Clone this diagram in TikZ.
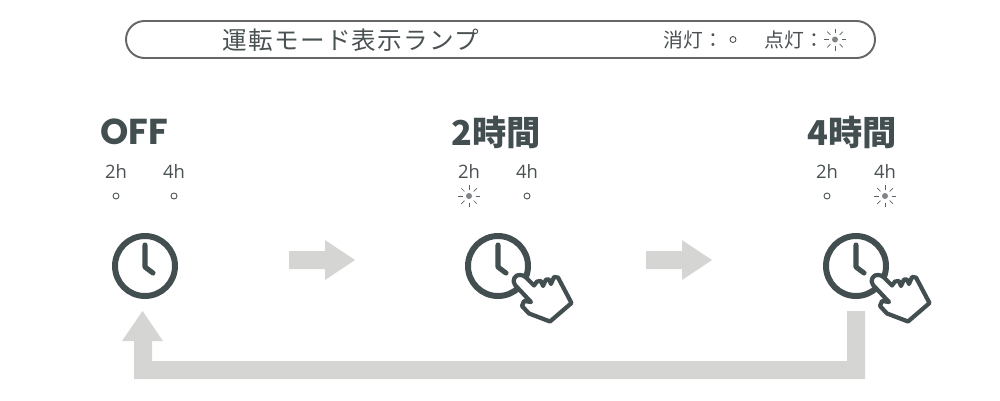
\documentclass[tikz,border=0pt]{standalone}
\usepackage{fontspec}
\setmainfont{Noto Sans CJK JP}
\newfontfamily\latinfont{Open Sans}
\newfontfamily\titlefont{Poppins}
\usetikzlibrary{calc}

\definecolor{iconcolor}{HTML}{434E51}
\definecolor{textcolor}{HTML}{4A5153}
\definecolor{arrowcolor}{HTML}{D5D6D3}
\definecolor{framecolor}{HTML}{666666}

\tikzset{
    px/.style = {x=0.02cm, y=-0.02cm},
    flow/.style = {fill=arrowcolor, draw=none},
    title/.style = {text=iconcolor, font=\fontsize{19.5}{19.5}\selectfont\bfseries, inner sep=0pt},
    lamp/.style = {text=textcolor, font=\latinfont\fontsize{10.5}{10.5}\selectfont, inner sep=0pt},
    note/.style = {text=textcolor, font=\fontsize{11.3}{11.3}\selectfont, inner sep=0pt, anchor=west},
    pics/lampoff/.style = {code={
        \draw[textcolor, line width=0.5pt] (0,0) circle (3);
    }},
    pics/lampon/.style = {code={
        \fill[textcolor!70] (0,0) circle (3);
        \foreach \a in {0,45,...,315}
            \draw[textcolor!90, line width=0.4pt] (\a:6.5) -- (\a:11);
    }},
    pics/clock/.style = {code={
        \draw[iconcolor, line width=3.4pt] (0,0) circle (30);
        \draw[iconcolor, line width=2.9pt, line cap=round, line join=round] (0,-21) -- (0,1) -- (8,7);
    }},
    pics/hand/.style = {code={
        \draw[iconcolor, fill=white, line width=2.4pt, line join=round]
            (17,19) .. controls (13,14) and (18,8) .. (22,9) .. controls (24,9) and (26,9.5) .. (28,11.5)
            -- (36,19.5) -- (39,15.5) -- (43,15) -- (45,20) -- (48,13.5) -- (51,13.5) -- (53,18) -- (56,11) -- (60,11.5)
            -- (73.5,37) -- (52,55.5) -- (31,47.5) -- (24,40) -- (26,35) -- (33,36) -- cycle;
    }},
}

\begin{document}
\begin{tikzpicture}[px]
    \useasboundingbox (0,0) rectangle (1000,400);

    % header
    \draw[framecolor, line width=1.1pt, rounded corners=18.5*0.02cm] (126,21) rectangle (875,58);
    \node[text=textcolor, font=\fontsize{14}{14}\selectfont\addfontfeature{LetterSpace=5}, inner sep=0pt] (header) at (351,40) {運転モード表示ランプ};
    \node[note] (lampoffnote) at (663,40) {消灯：};
    \node[note] (lamponnote) at (764,40) {点灯：};
    \pic at (733,39.5) {lampoff};
    \pic at (835,39.5) {lampon};

    % titles
    \node[title, font=\titlefont\fontsize{20.5}{20.5}\selectfont\bfseries] (modeoff) at (134,132) {OFF};
    \node[title] (modetwo) at (496,132) {2時間};
    \node[title] (modefour) at (852,132) {4時間};

    % lamps
    \foreach \x/\name in {116/a, 469/b, 827/c} \node[lamp] (two\name) at (\x,171) {2h};
    \foreach \x/\name in {174/a, 527/b, 885/c} \node[lamp] (four\name) at (\x,171) {4h};
    \pic at (116,196) {lampoff};
    \pic at (174,196) {lampoff};
    \pic at (469,196) {lampon};
    \pic at (527,196) {lampoff};
    \pic at (827,196) {lampoff};
    \pic at (885,196) {lampon};

    % clocks
    \pic at (145,266) {clock};
    \pic at (498,266) {clock};
    \pic at (856,266) {clock};
    \pic at (498,266) {hand};
    \pic at (856,266) {hand};

    % arrows
    \foreach \x in {289,646}
        \fill[flow] (\x,251) -- ++(36,0) -- ++(0,-11) -- ++(30,20) -- ++(-30,20) -- ++(0,-11) -- ++(-36,0) -- cycle;
    \fill[flow] (847,311) -- (865,311) -- (865,379) -- (134,379) -- (134,341) -- (122,341)
        -- (142.5,311) -- (163,341) -- (152,341) -- (152,361) -- (847,361) -- cycle;
\end{tikzpicture}
\end{document}
